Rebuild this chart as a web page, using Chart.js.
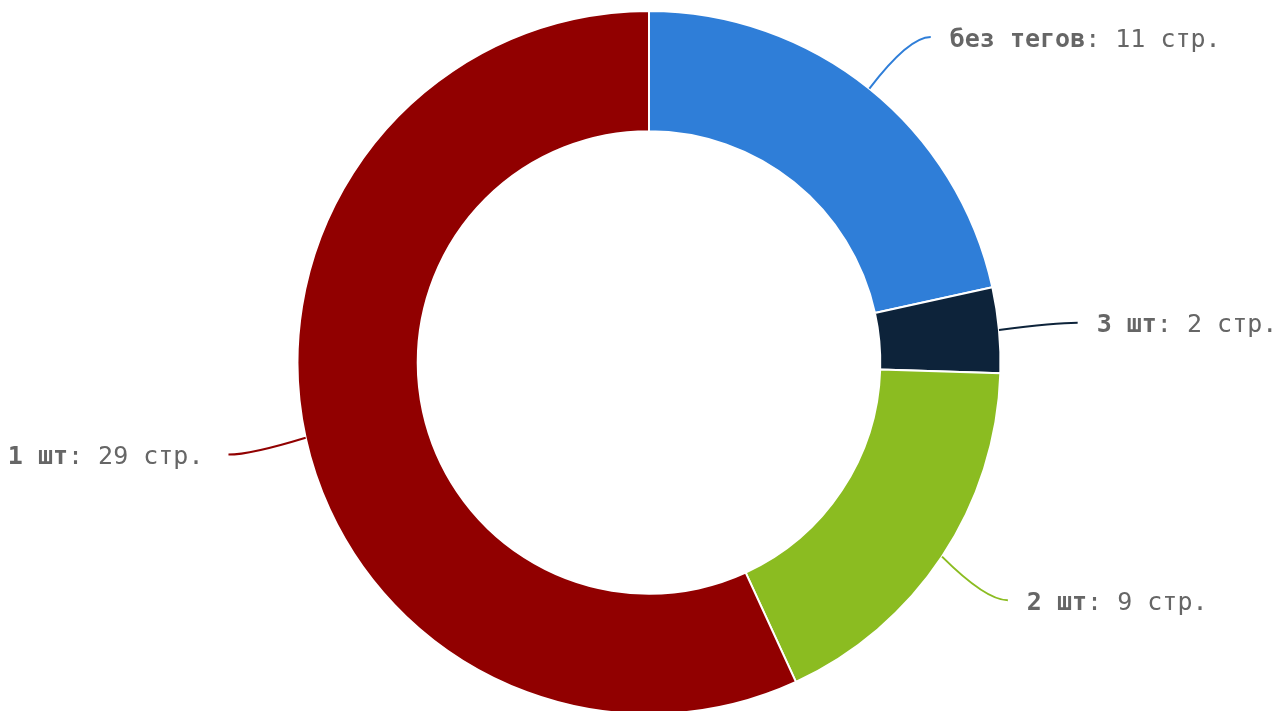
<!DOCTYPE html>
<html>
<head>
<meta charset="utf-8">
<script src="https://cdn.jsdelivr.net/npm/chart.js@4"></script>
<style>
  html, body { margin: 0; padding: 0; background: #fff; overflow: hidden; }
  #wrap { width: 1282px; height: 715px; }
</style>
</head>
<body>
<div id="wrap"><canvas id="myChart"></canvas></div>
<script>
const categories = ['без тегов', '3 шт', '2 шт', '1 шт'];
const pages = [11, 2, 9, 29];
const colors = ['#2f7ed8', '#0d233a', '#8bbc21', '#910000'];
const unit = 'стр.';

// подписи с выносками как в оригинале
const labelPlugin = {
    id: 'outLabels',
    afterDatasetsDraw(chart) {
        const ctx = chart.ctx;
        const meta = chart.getDatasetMeta(0);
        const fontSize = 25;
        ctx.save();
        meta.data.forEach((arc, i) => {
            const p = arc.getProps(['x', 'y', 'startAngle', 'endAngle', 'outerRadius'], true);
            const a = (p.startAngle + p.endAngle) / 2;
            const R = p.outerRadius;
            const x0 = p.x + R * Math.cos(a);
            const y0 = p.y + R * Math.sin(a);
            const lr = R + 79;
            let ly = p.y + lr * Math.sin(a);
            ly = Math.max(ly, 37);
            const dir = Math.cos(a) >= 0 ? 1 : -1;
            const dy = ly - p.y;
            const lx = p.x + dir * Math.sqrt(Math.max(lr * lr - dy * dy, 0));

            ctx.strokeStyle = colors[i];
            ctx.lineWidth = 2;
            ctx.beginPath();
            ctx.moveTo(x0, y0);
            ctx.quadraticCurveTo(lx - dir * 22, ly, lx, ly);
            ctx.stroke();

            const bold = categories[i];
            const rest = ': ' + pages[i] + ' ' + unit;
            ctx.textBaseline = 'middle';
            ctx.fillStyle = '#666';
            ctx.font = 'bold ' + fontSize + 'px "DejaVu Sans Mono"';
            const wb = ctx.measureText(bold).width;
            ctx.font = fontSize + 'px "DejaVu Sans Mono"';
            const wr = ctx.measureText(rest).width;
            let tx = dir > 0 ? lx + 19 : lx - 25 - wb - wr;
            ctx.font = 'bold ' + fontSize + 'px "DejaVu Sans Mono"';
            ctx.fillText(bold, tx, ly + 3);
            ctx.font = fontSize + 'px "DejaVu Sans Mono"';
            ctx.fillText(rest, tx + wb, ly + 3);
        });
        ctx.restore();
    }
};

const ctx = document.getElementById('myChart').getContext('2d');
const myChart = new Chart(ctx, {
    type: 'doughnut',
    data: {
        labels: categories,
        datasets: [{
            data: pages,
            backgroundColor: colors,
            borderColor: '#ffffff',
            borderWidth: 2
        }]
    },
    options: {
        responsive: true,
        maintainAspectRatio: false,
        animation: false,
        cutout: '65.8%',
        layout: { padding: { top: 10, left: 16, right: 0, bottom: 0 } },
        plugins: {
            legend: { display: false },
            tooltip: { enabled: false }
        }
    },
    plugins: [labelPlugin]
});
</script>
</body>
</html>
